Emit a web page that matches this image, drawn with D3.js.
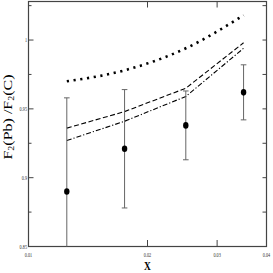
<!DOCTYPE html>
<html><head><meta charset="utf-8">
<script src="https://cdn.jsdelivr.net/npm/d3@7"></script>
<style>body{margin:0;background:#fff}svg{display:block}</style>
</head><body><svg id="c" width="273" height="273"></svg>
<script>
const xData = [0.0125, 0.0175, 0.025, 0.035];
const yData = [0.890, 0.921, 0.938, 0.962];
const yErr = [0.068, 0.043, 0.025, 0.020];
const dottedY = [0.970, 0.978, 0.994, 1.018];
const dashedY = [0.936, 0.948, 0.965, 0.998];
const dashDotY = [0.927, 0.941, 0.959, 0.994];
const xTickVals = [0.01, 0.02, 0.03, 0.04];
const xTickLabels = ["0.01", "0.02", "0.03", "0.04"];
const yMajor = [0.85, 0.9, 0.95, 1.0];
const yMajorLabels = ["0.85", "0.9", "0.95", "1"];
const yMinor = [0.875, 0.925, 0.975, 1.025];

const svg = d3.select("#c");
const L = 28.5, R = 266.5, T = 1.5, B = 246.5;
const x = d3.scaleLog().domain([0.01, 0.04]).range([L, R]);
const y = d3.scaleLinear().domain([0.85, 1.028]).range([B, T]);
const frame = "#444";

svg.append("defs").append("clipPath").attr("id","clip")
  .append("rect").attr("x",L).attr("y",T).attr("width",R-L).attr("height",B-T);

// frame
svg.append("rect").attr("x",L).attr("y",T).attr("width",R-L).attr("height",B-T)
  .attr("fill","none").attr("stroke",frame).attr("stroke-width",1.2);

// y ticks
const g = svg.append("g").attr("stroke",frame).attr("stroke-width",1);
yMajor.concat(yMinor).forEach(v=>{
  const major = yMajor.includes(v);
  g.append("line").attr("x1",L).attr("x2",L+(major?5:3)).attr("y1",y(v)).attr("y2",y(v));
  g.append("line").attr("x1",R).attr("x2",R-4).attr("y1",y(v)).attr("y2",y(v));
});
// x ticks (interior only)
xTickVals.slice(1,3).forEach(v=>{
  g.append("line").attr("x1",x(v)).attr("x2",x(v)).attr("y1",B).attr("y2",B-6.5);
  g.append("line").attr("x1",x(v)).attr("x2",x(v)).attr("y1",T).attr("y2",T+6);
});

const font = "'Liberation Serif','Times New Roman',serif";
// y tick labels
yMajor.forEach((v,i)=>{
  svg.append("text").attr("transform",`translate(${L-1.5},${y(v)+2}) scale(0.65,1)`)
    .attr("text-anchor","end").attr("font-family",font).attr("font-size",6.5)
    .attr("fill","#333").text(yMajorLabels[i]);
});
// x tick labels
xTickVals.forEach((v,i)=>{
  svg.append("text").attr("transform",`translate(${x(v)},${B+10}) scale(0.65,1)`)
    .attr("text-anchor","middle").attr("font-family",font).attr("font-size",6.5)
    .attr("fill","#333").text(xTickLabels[i]);
});

// axis titles
svg.append("text").attr("transform",`translate(${(L+R)/2},${B+23.5}) scale(0.7,1)`)
  .attr("text-anchor","middle").attr("font-family",font).attr("font-weight","bold")
  .attr("font-size",13.5).attr("fill","#000").text("X");

const yl = svg.append("text").attr("transform",`translate(12,117) rotate(-90) scale(1,0.75)`)
  .attr("text-anchor","middle").attr("font-family",font).attr("font-size",16).attr("fill","#000");
yl.append("tspan").text("F");
yl.append("tspan").attr("font-size",10).attr("dy",3).text("2");
yl.append("tspan").attr("dy",-3).text("(Pb) /F");
yl.append("tspan").attr("font-size",10).attr("dy",3).text("2");
yl.append("tspan").attr("dy",-3).text("(C)");

// curves
const line = d3.line().x((d,i)=>x(xData[i])).y(d=>y(d));
const smooth = d3.line().x((d,i)=>x(xData[i])).y(d=>y(d)).curve(d3.curveMonotoneX);
const plot = svg.append("g").attr("clip-path","url(#clip)");
plot.append("path").datum(dottedY).attr("d",smooth).attr("fill","none")
  .attr("stroke","#000").attr("stroke-width",2.6).attr("stroke-dasharray","2.2,4.6");
plot.append("path").datum(dashedY).attr("d",line).attr("fill","none")
  .attr("stroke","#000").attr("stroke-width",1.1).attr("stroke-dasharray","5,2.5");
plot.append("path").datum(dashDotY).attr("d",line).attr("fill","none")
  .attr("stroke","#000").attr("stroke-width",1.1).attr("stroke-dasharray","5,2,1.2,2");

// error bars
const eb = plot.append("g").attr("stroke","#666").attr("stroke-width",1);
xData.forEach((xv,i)=>{
  const cx = x(xv), top = y(yData[i]+yErr[i]), bot = y(yData[i]-yErr[i]);
  eb.append("line").attr("x1",cx).attr("x2",cx).attr("y1",top).attr("y2",bot);
  eb.append("line").attr("x1",cx-2.8).attr("x2",cx+2.8).attr("y1",top).attr("y2",top);
  eb.append("line").attr("x1",cx-2.8).attr("x2",cx+2.8).attr("y1",bot).attr("y2",bot);
});
// points
xData.forEach((xv,i)=>{
  svg.append("ellipse").attr("cx",x(xv)).attr("cy",y(yData[i]))
    .attr("rx",2.7).attr("ry",3.3).attr("fill","#000");
});
</script></body></html>
